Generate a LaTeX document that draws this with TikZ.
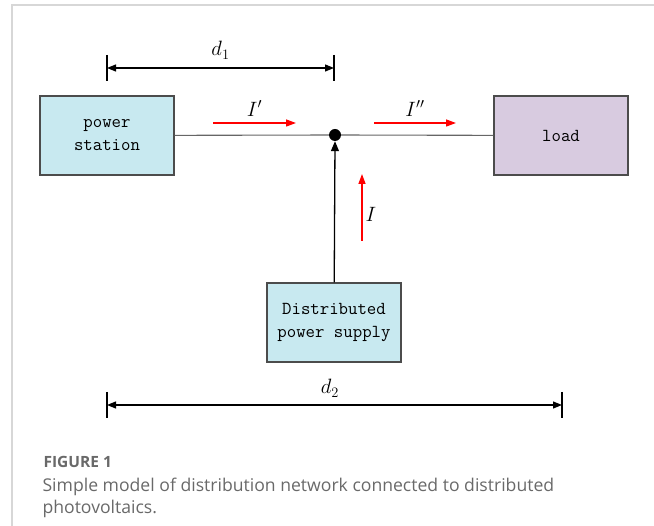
\documentclass[tikz,border=0pt]{standalone}
\usepackage{fontspec}
\newfontfamily\capfont{Open Sans}
\usetikzlibrary{arrows.meta}

\definecolor{stationblue}{RGB}{200,233,240}
\definecolor{loadpurple}{RGB}{216,203,224}
\definecolor{capgray}{RGB}{105,105,105}
\definecolor{framegray}{RGB}{215,215,215}

\begin{document}
\begin{tikzpicture}[x=1pt, y=-1pt,
  block/.style={draw=black!70, line width=1.2pt, fill=stationblue, minimum width=134, minimum height=79,
    inner sep=0, align=center, font=\fontsize{18.3}{23}\selectfont\ttfamily},
  flow/.style={red, line width=1.3pt, -{Triangle[length=10pt, width=7pt]}},
  dimline/.style={line width=1.2pt, {Triangle[length=9pt, width=7pt]}-{Triangle[length=9pt, width=7pt]}},
  lbl/.style={font=\fontsize{22}{24}\selectfont}]

  \useasboundingbox (0,0) rectangle (654,526);

  % frame of the figure panel
  \draw[framegray, line width=1.5pt] (12,526) -- (12,5) -- (654,5);

  % blocks
  \node[block] (station) at (107,135.5) {power\\station};
  \node[block, fill=loadpurple] (load) at (561,135.5) {load};
  \node[block] (dps) at (334,322.5) {Distributed\\power supply};

  % junction
  \node[circle, fill=black, inner sep=0, minimum size=12] (bus) at (335,135) {};

  % lines
  \draw[black!60, line width=1.1pt] (station) -- (bus);
  \draw[black!60, line width=1.1pt] (bus) -- (load);
  \draw[line width=1.3pt, -{Triangle[length=10pt, width=8pt]}] (dps) -- (bus.south);

  % current arrows
  \coordinate (i1a) at (213,123); \coordinate (i1b) at (296,123);
  \coordinate (i2a) at (374,123); \coordinate (i2b) at (456,123);
  \coordinate (i3a) at (362,241); \coordinate (i3b) at (362,174);
  \draw[flow] (i1a) -- (i1b) node[lbl, text=black, midway, above=3] {$I'$};
  \draw[flow] (i2a) -- (i2b) node[lbl, text=black, midway, above=3] {$I''$};
  \draw[flow] (i3a) -- (i3b);
  \node[lbl] (ilbl) at (371,214) {$I$};

  % distance d1
  \coordinate (d1a) at (107,68); \coordinate (d1b) at (334,68);
  \draw[line width=1.2pt] (107,55) -- (107,81);
  \draw[line width=1.2pt] (334,55) -- (334,81);
  \draw[dimline] (d1a) -- (d1b) node[lbl, midway, above=5] {$d_1$};

  % distance d2
  \coordinate (d2a) at (107,405); \coordinate (d2b) at (562,405);
  \draw[line width=1.2pt] (107,392) -- (107,418);
  \draw[line width=1.2pt] (562,392) -- (562,418);
  \draw[dimline] (d2a) -- (d2b) node[lbl, pos=0.49, above=4] {$d_2$};

  % caption
  \node[anchor=base west, text=capgray, font=\capfont\fontsize{15.5}{18}\selectfont\bfseries] (fig) at (40,468) {FIGURE 1};
  \node[anchor=base west, text=capgray, font=\capfont\fontsize{17.6}{22}\selectfont] (cap) at (39,492)
    {Simple model of distribution network connected to distributed};
  \node[anchor=base west, text=capgray, font=\capfont\fontsize{17.6}{22}\selectfont] (cap2) at (39,514) {photovoltaics.};
\end{tikzpicture}
\end{document}
